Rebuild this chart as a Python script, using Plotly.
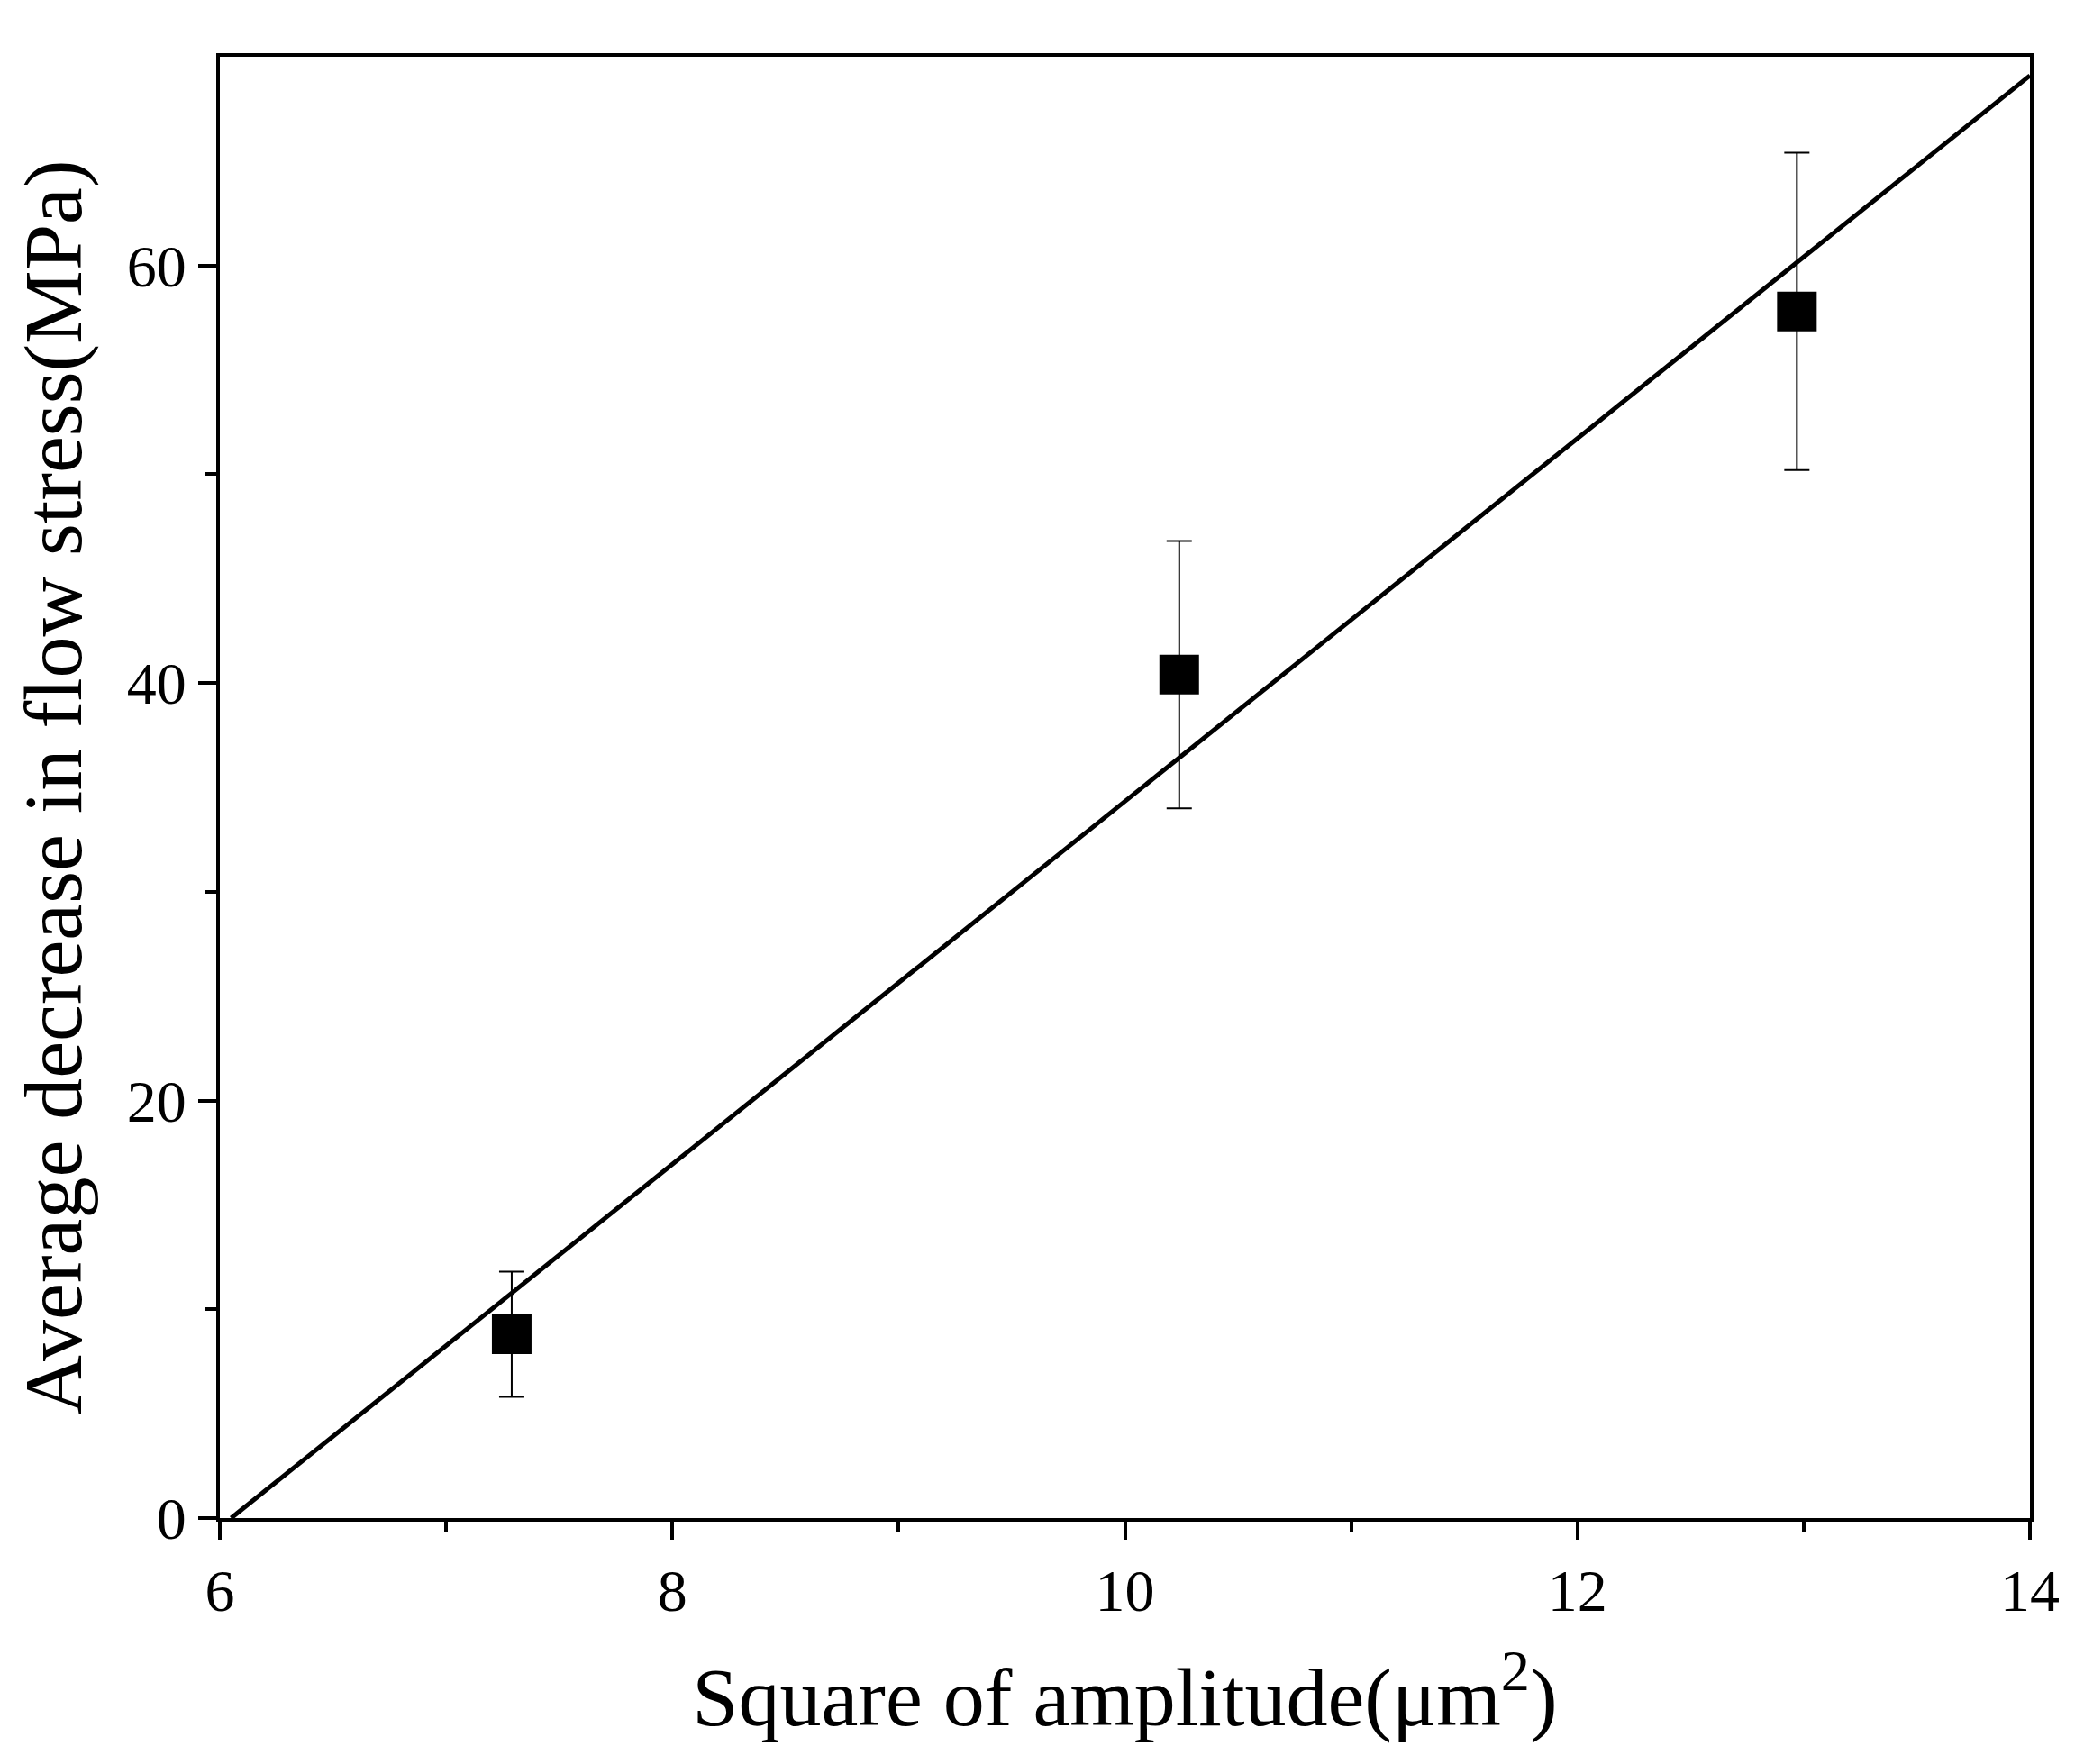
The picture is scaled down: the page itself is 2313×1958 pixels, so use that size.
import plotly.graph_objects as go

# measured points
amp_sq = [7.29, 10.24, 12.97]
stress_drop = [8.8, 40.4, 57.8]
stress_err = [3.0, 6.4, 7.6]

# linear fit line
fit_x = [6.05, 14.0]
fit_y = [0.0, 69.1]

fig = go.Figure()
fig.add_trace(go.Scatter(x=fit_x, y=fit_y, mode="lines",
                         line=dict(color="black", width=5), showlegend=False))
fig.add_trace(go.Scatter(
    x=amp_sq, y=stress_drop, mode="markers",
    marker=dict(symbol="square", size=44, color="black"),
    error_y=dict(type="data", array=stress_err, color="black", thickness=2, width=14),
    showlegend=False))

font = dict(family="Liberation Serif", color="black")
axis_common = dict(showline=True, linecolor="black", linewidth=4, mirror=True,
                   showgrid=False, zeroline=False, ticks="outside", ticklen=20,
                   tickwidth=4, tickcolor="black", tickfont=dict(size=66, **font))
fig.update_xaxes(range=[6, 14], tickvals=[6, 8, 10, 12, 14],
                 minor=dict(tickvals=[7, 9, 11, 13], ticks="outside", ticklen=12,
                            tickwidth=4, tickcolor="black"),
                 title=dict(text="Square of amplitude(μm<sup>2</sup>)",
                            font=dict(size=92, **font), standoff=50),
                 **axis_common)
fig.update_yaxes(range=[0, 70], tickvals=[0, 20, 40, 60],
                 minor=dict(tickvals=[10, 30, 50], ticks="outside", ticklen=12,
                            tickwidth=4, tickcolor="black"),
                 title=dict(text="Average decrease in flow stress(MPa)",
                            font=dict(size=92, **font), standoff=35),
                 **axis_common)
fig.update_layout(width=2313, height=1958, plot_bgcolor="white", paper_bgcolor="white",
                  margin=dict(l=236, r=68, t=55, b=281))
fig.write_html("out.html")
